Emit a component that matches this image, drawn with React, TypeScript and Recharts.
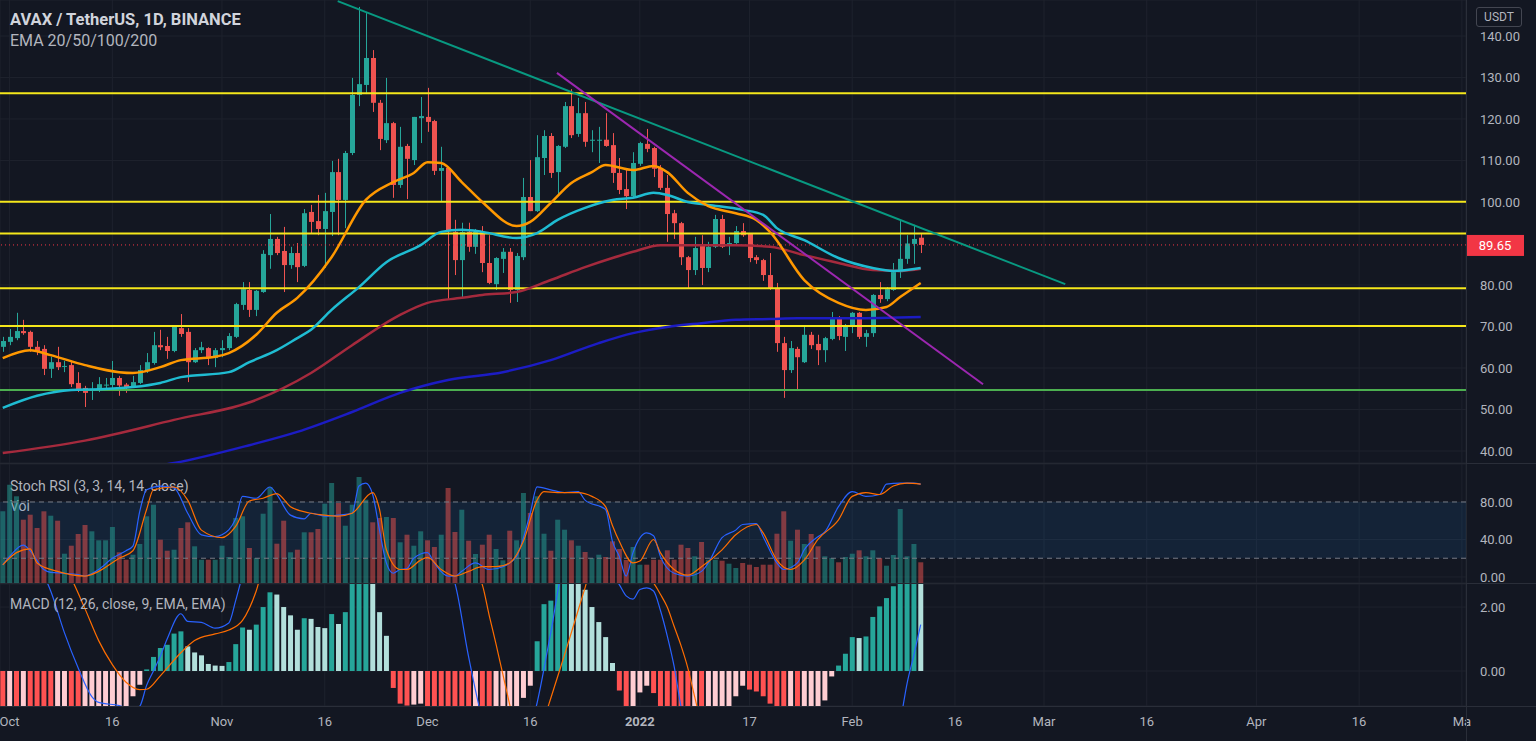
import React from 'react'
import {
  ComposedChart,
  Bar,
  Line,
  XAxis,
  YAxis,
  CartesianGrid,
  ReferenceLine,
  ReferenceArea,
  Cell,
} from 'recharts'

// daily candles, 30 Sep 2021 -> 10 Feb 2022 (index 0 = 30 Sep)
const opens = [
  65.1, 66.3, 67.2, 68.9, 68.7, 65.1, 64.6, 59.8, 61.4, 60.3, 60.7, 56.4, 55.2, 54.5, 54.9, 55.8, 55.9, 57.6, 56.0, 55.4,
  56.4, 59.3, 61.2, 65.5, 65.3, 64.1, 69.6, 68.7, 61.4, 64.3, 64.8, 62.4, 64.3, 64.8, 67.5, 75.2, 78.8, 74.0, 78.3, 87.2,
  91.1, 88.2, 84.8, 87.7, 84.6, 97.6, 95.4, 93.5, 97.6, 107.2, 100.5, 111.8, 125.8, 128.2, 134.7, 123.9, 114.9, 119.0, 104.1, 113.5,
  110.1, 120.2, 120.5, 119.5, 107.5, 108.2, 92.8, 86.0, 92.8, 89.2, 92.8, 85.3, 80.2, 86.3, 88.0, 78.8, 86.7, 101.2, 97.8, 110.6,
  115.9, 107.2, 113.3, 123.1, 116.4, 121.4, 114.9, 114.9, 115.0, 113.7, 107.0, 103.1, 101.4, 109.2, 114.0, 113.0, 108.2, 103.4, 97.3, 94.9,
  86.7, 83.6, 89.6, 84.1, 89.2, 95.9, 89.4, 90.1, 93.0, 92.3, 86.7, 86.0, 82.4, 79.3, 66.0, 59.5, 64.6, 61.4, 68.0, 65.8,
  64.3, 67.0, 72.0, 67.5, 69.9, 73.3, 67.5, 68.4, 77.6, 76.6, 78.8, 83.1, 86.3, 89.9, 91.4,
]
const highs = [
  67.5, 69.4, 73.3, 71.6, 69.0, 66.5, 65.5, 62.7, 65.1, 61.7, 61.7, 59.0, 55.7, 56.6, 57.8, 57.6, 61.7, 58.1, 56.4, 58.1,
  60.7, 63.6, 68.7, 69.2, 67.5, 70.1, 73.0, 69.6, 64.8, 66.3, 65.0, 64.8, 66.7, 68.4, 75.7, 80.7, 80.7, 78.8, 88.4, 97.1,
  91.6, 94.0, 89.2, 90.1, 98.3, 99.3, 101.7, 102.2, 109.9, 110.4, 112.3, 129.9, 147.0, 145.5, 136.6, 124.6, 129.9, 119.3, 118.1, 114.0,
  120.5, 125.3, 127.5, 119.8, 113.3, 108.5, 95.7, 95.0, 95.0, 93.5, 94.2, 92.0, 86.7, 88.9, 88.9, 87.7, 105.8, 110.1, 116.1, 117.3,
  116.6, 113.7, 124.1, 127.2, 125.1, 124.1, 117.3, 118.1, 121.4, 116.6, 110.6, 107.7, 112.0, 114.5, 117.6, 113.3, 108.9, 106.5, 98.1, 95.2,
  87.0, 91.6, 92.0, 90.4, 96.9, 96.9, 91.6, 94.2, 94.9, 92.5, 87.2, 86.3, 87.7, 80.5, 67.5, 66.5, 65.1, 70.1, 68.7, 68.0,
  67.5, 73.5, 72.5, 70.6, 73.5, 73.5, 69.2, 77.8, 80.7, 79.5, 85.3, 95.4, 92.0, 94.5, 92.5,
]
const lows = [
  63.9, 65.5, 66.7, 68.0, 63.9, 63.1, 58.3, 57.6, 59.5, 59.0, 55.4, 54.2, 50.6, 52.3, 54.2, 54.5, 55.2, 53.3, 54.0, 55.2,
  56.1, 58.8, 60.8, 64.3, 62.2, 63.8, 67.5, 56.6, 61.2, 63.6, 60.7, 60.2, 62.6, 64.3, 67.2, 74.0, 72.3, 72.5, 78.1, 83.9,
  87.2, 78.3, 83.9, 80.7, 84.3, 92.5, 92.0, 84.1, 91.8, 92.0, 93.7, 111.3, 123.1, 126.0, 121.7, 112.5, 114.2, 101.0, 103.4, 100.7,
  108.9, 114.2, 116.9, 106.5, 100.0, 76.4, 82.4, 76.9, 88.0, 87.5, 83.1, 80.2, 78.8, 82.9, 75.7, 75.9, 86.0, 97.8, 97.6, 106.5,
  105.8, 101.7, 113.0, 115.4, 115.7, 113.3, 112.0, 109.4, 113.3, 104.6, 101.9, 98.3, 101.2, 108.7, 112.0, 106.0, 102.9, 90.4, 91.1, 84.8,
  79.3, 82.4, 80.0, 83.1, 88.9, 88.9, 87.2, 89.9, 91.6, 85.5, 85.1, 81.0, 78.8, 63.9, 52.8, 58.8, 54.7, 61.2, 64.6, 60.7,
  61.4, 66.7, 66.7, 64.1, 68.4, 67.0, 65.1, 67.5, 75.7, 76.1, 78.6, 81.7, 85.1, 85.1, 87.7,
]
const closes = [
  66.5, 67.5, 68.9, 68.4, 65.1, 63.9, 59.8, 61.4, 60.2, 60.5, 56.1, 54.9, 54.0, 55.0, 56.1, 56.0, 57.6, 55.8, 55.4, 56.6,
  59.5, 61.4, 65.5, 65.0, 64.1, 69.9, 68.2, 61.4, 64.3, 65.0, 62.6, 64.3, 64.8, 67.7, 75.4, 79.0, 74.0, 78.6, 87.5, 91.1,
  87.7, 84.8, 87.7, 84.3, 97.3, 95.2, 93.5, 97.8, 107.2, 100.5, 111.8, 125.8, 128.4, 134.7, 123.9, 115.2, 119.0, 104.1, 113.3, 110.4,
  120.5, 120.7, 119.3, 107.5, 108.2, 93.0, 86.0, 92.8, 89.2, 92.8, 85.3, 80.5, 86.5, 88.0, 78.8, 87.0, 101.2, 97.8, 110.8, 115.9,
  107.0, 113.5, 123.1, 116.1, 121.4, 114.5, 115.0, 115.0, 113.5, 107.0, 102.9, 101.4, 109.4, 114.2, 112.8, 108.0, 103.4, 97.1, 94.9, 86.7,
  83.6, 88.9, 84.1, 89.2, 95.9, 89.2, 90.1, 93.0, 92.0, 86.5, 86.0, 82.4, 79.3, 66.0, 59.5, 64.8, 62.6, 68.0, 65.5, 64.3,
  67.2, 72.0, 67.7, 69.9, 73.3, 67.5, 68.4, 77.6, 76.6, 79.0, 83.1, 86.3, 90.0, 91.1, 89.65,
]
// volume, relative units
const volumes = [
  71.7, 98.3, 86.7, 63.3, 68.3, 55, 71.7, 67.3, 62.3, 29.3, 37.3, 49, 58, 51.7, 42.7, 42.7, 56, 30.7, 23.3, 28.3,
  39, 66.7, 78.3, 43.3, 32.3, 33.3, 55, 60.7, 36.7, 23.3, 23.3, 23.3, 37.3, 26, 65, 66.7, 35, 25, 69.3, 96,
  39.3, 62.3, 30.7, 33.3, 50.7, 50.7, 54, 79.3, 100, 80, 57.3, 78.3, 106, 83.3, 60.7, 65, 66, 65, 40.7, 48.3,
  37.3, 51.7, 42.7, 36, 48.3, 95, 51, 73.3, 42.3, 29, 38.3, 48.3, 34, 22.7, 52.3, 42.7, 90, 70, 86.7, 49.3,
  32.3, 63.3, 53.3, 42.7, 37.3, 31, 25, 28.3, 26, 41.7, 34, 23, 36, 18.3, 18.3, 23.3, 23.3, 32.7, 23.3, 38.3,
  35, 26.7, 41, 23.3, 23.3, 22.3, 19.3, 15, 20, 18.3, 16, 18.3, 18.3, 49.3, 71.7, 42.3, 53.3, 39, 49, 36.7,
  26.7, 25, 20.7, 26, 29.3, 32.7, 26.7, 32.7, 25, 17.3, 28, 74, 26.7, 39, 20.7,
]
const macdHist = [
  -1.4, -1.35, -1.42, -1.38, -1.5, -1.6, -1.7, -1.8, -1.75, -1.7, -1.78, -1.85, -1.8, -1.7, -1.6, -1.5, -1.4, -1.3, -1.2, -0.79,
  -0.43, 0.05, 0.44, 0.72, 0.82, 1.17, 1.24, 0.77, 0.58, 0.49, 0.22, 0.17, 0.16, 0.28, 0.84, 1.36, 1.29, 1.45, 2.0, 2.46,
  2.39, 2.0, 1.74, 1.29, 1.65, 1.63, 1.375, 1.34, 1.78, 1.47, 1.84, 2.8, 3.0, 3.2, 3.1, 1.84, 1.1, -0.53, -1.02, -1.08,
  -1.05, -1.02, -1.15, -1.3, -1.4, -1.6, -1.8, -1.9, -2.0, -1.95, -2.0, -2.05, -1.95, -1.8, -1.6, -1.3, -0.84, -0.46, 0.93, 2.09,
  2.2, 2.9, 3.1, 3.0, 2.85, 2.54, 2.0, 1.53, 1.06, 0.25, -0.61, -1.3, -1.2, -0.67, -0.46, -0.69, -1.2, -1.5, -1.8, -2.0,
  -2.2, -2.1, -2.2, -2.0, -1.8, -1.5, -1.2, -0.79, -0.46, -0.58, -0.64, -0.79, -1.02, -1.3, -1.6, -1.55, -1.6, -1.5, -1.4, -1.2,
  -0.92, -0.17, 0.17, 0.54, 1.06, 1.03, 1.08, 1.69, 2.02, 2.28, 2.65, 2.9, 3.1, 3.3, 3.2,
]

// indicator readings: [candle index, value]
const ema20Pts = [
  [0, 62.4], [4, 64.3], [7, 63.1], [12, 60.7], [17, 59.0], [19, 58.8], [23, 60.2], [26, 61.9], [31, 62.7], [33, 63.6],
  [37, 68.0], [40, 73.3], [43, 76.9], [48, 86.7], [53, 100.5], [57, 104.8], [60, 107.0], [62, 109.6], [64, 109.4], [67, 104.8],
  [70, 100.0], [75, 94.2], [77, 95.2], [80, 99.8], [83, 104.6], [86, 107.2], [88, 108.9], [92, 107.7], [95, 108.7], [97, 107.2],
  [100, 102.2], [103, 99.0], [107, 97.3], [110, 95.7], [112, 92.8], [117, 81.2], [122, 75.7], [126, 74.0], [129, 74.7], [131, 77.1],
  [134, 80.5],
]
const ema50Pts = [
  [0, 50.4], [5, 53.3], [10, 54.7], [14, 54.9], [19, 55.4], [23, 56.4], [26, 57.8], [33, 59.0], [36, 61.4], [40, 64.3],
  [43, 67.2], [45, 69.2], [48, 74.0], [52, 79.5], [56, 85.5], [61, 89.6], [64, 92.8], [67, 93.3], [70, 92.8], [75, 91.3],
  [78, 92.5], [81, 95.7], [85, 98.6], [89, 100.5], [92, 101.0], [95, 102.2], [97, 101.7], [100, 100.0], [103, 99.3], [108, 98.1],
  [111, 96.9], [113, 93.7], [117, 90.8], [122, 86.5], [127, 84.1], [130, 83.4], [134, 84.1],
]
const ema100Pts = [
  [0, 39.5], [12, 42.5], [25, 47.5], [37, 52.3], [45, 58.8], [51, 65.5], [58, 72.8], [62, 75.7], [67, 76.9], [70, 77.6],
  [75, 78.3], [80, 81.2], [85, 84.3], [89, 86.5], [92, 88.0], [96, 89.6], [102, 89.6], [107, 89.6], [112, 89.2], [117, 87.2],
  [122, 85.3], [127, 83.6], [131, 83.4], [134, 83.9],
]
const ema200Pts = [
  [20, 35.8], [25, 37.1], [36, 41.4], [43, 44.6], [51, 49.4], [58, 54.0], [65, 57.1], [73, 59.0], [80, 61.9], [87, 66.0],
  [92, 68.4], [97, 69.9], [102, 70.8], [107, 71.6], [112, 71.8], [116, 72.0], [124, 72.0], [134, 72.3],
]
const stochKPts = [
  [0, 13], [1, 22], [3, 34], [4, 28], [6, 8], [7, 5], [9, 4], [11, 2.5], [12, 1], [14, 8], [16, 20], [18, 28], [19, 33],
  [20, 70], [21, 93], [23, 97], [25, 95], [27, 68], [29, 45], [31, 43], [32, 45], [34, 62], [35, 86], [37, 84], [39, 96],
  [40, 88], [42, 66], [44, 62], [45, 68], [47, 65], [49, 66], [51, 68], [52, 97], [53, 100], [54, 88], [55, 50], [56, 15],
  [57, 4], [58, 8], [59, 9], [60, 20], [62, 26], [63, 15], [65, 1], [66, 1], [67, 6], [69, 15], [71, 8], [73, 11], [75, 22],
  [77, 68], [78, 96], [80, 93], [82, 90], [84, 91], [85, 82], [88, 72], [89, 38], [90, 22], [91, 1], [92, 26], [94, 47],
  [95, 44], [96, 22], [98, 4], [100, 1], [102, 6], [103, 15], [105, 42], [107, 50], [108, 56], [110, 57], [111, 43], [113, 15],
  [114, 8], [116, 15], [117, 29], [119, 43], [120, 48], [122, 75], [124, 91], [126, 86], [128, 88], [129, 99], [131, 100],
  [133, 100], [134, 99],
]
const stochDPts = [
  [0, 13], [2, 26], [4, 30], [5, 15], [8, 6], [12, 1], [14, 6], [17, 20], [19, 28], [21, 72], [22, 93], [25, 96], [27, 82],
  [29, 50], [32, 42], [34, 54], [36, 81], [38, 84], [40, 89], [42, 75], [45, 68], [47, 66], [49, 65], [51, 68], [54, 90],
  [55, 72], [56, 29], [58, 8], [59, 8], [61, 18], [62, 21], [64, 8], [66, 1], [68, 6], [70, 11], [72, 11], [74, 15], [76, 38],
  [78, 82], [79, 91], [81, 90], [84, 90], [86, 86], [88, 75], [89, 55], [90, 38], [92, 15], [93, 17], [95, 40], [96, 26],
  [98, 8], [100, 2], [102, 11], [105, 29], [107, 45], [110, 56], [111, 47], [113, 18], [115, 8], [117, 18], [119, 40],
  [122, 61], [124, 86], [126, 90], [128, 88], [130, 97], [132, 100], [134, 99],
]
const macdPts = [
  [0, 4.5], [6, 3.0], [7, 2.5], [9, 1.2], [11, 0.1], [13, -0.8], [14, -0.98], [17, -1.08], [19, -1.2], [20, -1.1],
  [21, -0.45], [22, 0.0], [23, 0.46], [24, 1.0], [26, 1.79], [27, 1.55], [29, 1.52], [31, 1.34], [33, 1.5], [34, 2.2],
  [35, 3.0], [36, 3.8], [45, 5.0], [60, 5.0], [66, 2.75], [68, 0.45], [70, -1.5], [74, -3.0], [76, -2.5], [78, -1.0],
  [80, 1.2], [82, 3.4], [86, 4.2], [88, 3.3], [90, 2.7], [91, 2.35], [92, 2.25], [93, 2.55], [94, 2.6], [95, 2.5],
  [96, 1.9], [97, 1.1], [98, 0.15], [99, -1.1], [101, -2.5], [110, -4.0], [120, -4.5], [128, -3.5], [131, -1.6], [132, -0.4],
  [133, 0.5], [134, 1.45],
]
const signalPts = [
  [0, 5.5], [9, 3.3], [10, 2.9], [12, 1.95], [14, 0.95], [16, 0.2], [18, -0.35], [20, -0.58], [21, -0.57], [23, -0.15],
  [26, 0.57], [28, 0.95], [31, 1.16], [33, 1.28], [35, 1.58], [37, 2.5], [38, 3.2], [50, 5.0], [65, 4.5], [69, 3.1],
  [70, 2.7], [71, 1.75], [72, 0.85], [73, -0.1], [74, -1.05], [75, -2.0], [77, -2.3], [79, -1.5], [80, -0.85], [82, 0.5],
  [84, 1.9], [85, 2.6], [86, 3.3], [90, 3.4], [95, 2.75], [96, 2.4], [97, 2.0], [98, 1.4], [99, 0.8], [100, 0.1],
  [101, -0.8], [102, -1.6], [110, -3.0], [125, -3.0], [134, -1.75],
]

// drawings
const levels = [126.2, 100.05, 92.4, 79.2, 70.1]
const support = 54.7
const lastPrice = 89.65
const trendTeal = [{ x: 48.9, y: 148.4 }, { x: 155.1, y: 80.2 }]
const trendPurple = [{ x: 80.9, y: 131.1 }, { x: 143.1, y: 56.1 }]

// axes
const monthTicks = [1, 16, 32, 47, 62, 77, 93, 109, 124, 139, 152, 167, 183, 198, 213]
const monthLabels = ['Oct', '16', 'Nov', '16', 'Dec', '16', '2022', '17', 'Feb', '16', 'Mar', '16', 'Apr', '16', 'Ma']
const priceTicks = [40, 50, 60, 70, 80, 100, 110, 120, 130, 140]
const stochTicks = [0, 40, 80]
const macdTicks = [0, 2]

const W = 1536
const AXIS_W = 70
const BG = '#131722'
const GRID = '#1e222d'
const BORDER = '#2a2e39'
const TEXT = '#b2b5be'
const FONT = "'Trebuchet MS', Roboto, 'Noto Sans', sans-serif"
const UP = '#26a69a'
const DOWN = '#ef5350'

const rows = opens.map((open, i) => ({
  i,
  open,
  high: highs[i],
  low: lows[i],
  close: closes[i],
  range: [lows[i], highs[i]],
  vol: volumes[i],
  hist: macdHist[i],
}))

// each indicator line keeps its own small table (no gaps, no filler)
const series = (pts: number[][]) => pts.map(([i, v]) => ({ i, v }))

const histColor = (i: number) => {
  const v = macdHist[i]
  const prev = i > 0 ? macdHist[i - 1] : v
  if (v >= 0) return prev < v ? '#26a69a' : '#b2dfdb'
  return prev < v ? '#ffcdd2' : '#ff5252'
}

const Candle = (props: any) => {
  const { x, y, width, height, payload } = props
  if (!payload) return null
  const { open, close, high, low } = payload
  const color = close >= open ? UP : DOWN
  const top = Math.min(y, y + height)
  const h = Math.abs(height)
  const k = h / Math.max(high - low, 1e-6)
  const py = (v: number) => top + (high - v) * k
  const cx = Math.round(x + width / 2) + 0.5
  const bTop = py(Math.max(open, close))
  const bBot = py(Math.min(open, close))
  return (
    <g>
      <line x1={cx} x2={cx} y1={top} y2={top + h} stroke={color} strokeWidth={1} />
      <rect x={cx - 2.5} y={bTop} width={5} height={Math.max(bBot - bTop, 1)} fill={color} />
    </g>
  )
}

const PriceTag = (props: any) => {
  const vb = props.viewBox
  if (!vb) return null
  const x = vb.x + vb.width
  return (
    <g>
      <rect x={x} y={vb.y - 10} width={58} height={21} fill="#f23645" />
      <text x={x + 29} y={vb.y + 5} textAnchor="middle" fill="#ffffff" fontSize={13} fontFamily={FONT}>
        {lastPrice.toFixed(2)}
      </text>
    </g>
  )
}

const MonthTick = (props: any) => {
  const { x, y, payload } = props
  const label = monthLabels[monthTicks.indexOf(payload.value)]
  return (
    <text x={x} y={y} dy={12} textAnchor="middle" fill={TEXT} fontSize={13} fontFamily={FONT}
      fontWeight={label === '2022' ? 700 : 400}>
      {label}
    </text>
  )
}

const xDomain: [number, number] = [-0.4, 213.6]
const noMargin = { top: 0, right: 0, bottom: 0, left: 0 }
const yTick = { fill: TEXT, fontSize: 13, fontFamily: FONT }
const fmt = (v: number) => v.toFixed(2)

const IndLine = (pts: number[][], color: string, width: number) => (
  <Line data={series(pts)} dataKey="v" type="monotone" stroke={color} strokeWidth={width}
    dot={false} activeDot={false} isAnimationActive={false} />
)

const legend = (top: number, text: string, bold = false, size = 14, color = TEXT) => (
  <div style={{
    position: 'absolute', left: 10, top, fontFamily: FONT, fontSize: size, color,
    fontWeight: bold ? 700 : 400, whiteSpace: 'nowrap', lineHeight: 1,
  }}>{text}</div>
)

const App = () => {
  return (
    <div style={{ position: 'fixed', left: 0, top: 0, width: W, height: 741, background: BG, overflow: 'hidden' }}>
      <style>{'.stoch-pane .recharts-surface { overflow: visible; }'}</style>

      {/* price pane */}
      <div style={{ position: 'absolute', left: 0, top: 0 }}>
        <ComposedChart width={W} height={463} data={rows} margin={noMargin}>
          <CartesianGrid stroke={GRID} />
          <XAxis dataKey="i" type="number" domain={xDomain} ticks={monthTicks} allowDataOverflow hide />
          <YAxis orientation="right" width={AXIS_W} domain={[37.11, 148.67]} ticks={priceTicks} interval={0}
            allowDataOverflow axisLine={false} tickLine={false} tickMargin={8} tick={yTick} tickFormatter={fmt} />
          {levels.map((l) => (
            <ReferenceLine key={l} y={l} stroke="#f5e71b" strokeWidth={2} />
          ))}
          <ReferenceLine y={support} stroke="#4caf50" strokeWidth={2} />
          <ReferenceLine y={lastPrice} stroke="#f23645" strokeDasharray="1 3" label={<PriceTag />} />
          <Bar dataKey="range" shape={<Candle />} barSize={5} isAnimationActive={false} />
          {IndLine(ema200Pts, '#1c1cc4', 2.5)}
          {IndLine(ema100Pts, '#a52a3d', 2.5)}
          {IndLine(ema50Pts, '#1fbcd2', 2.5)}
          {IndLine(ema20Pts, '#ff9800', 2.5)}
          <ReferenceLine segment={trendTeal} stroke="#089981" strokeWidth={2} />
          <ReferenceLine segment={trendPurple} stroke="#9c27b0" strokeWidth={2} />
        </ComposedChart>
      </div>

      {/* stoch rsi + volume pane */}
      <div className="stoch-pane" style={{ position: 'absolute', left: 0, top: 464, zIndex: 2 }}>
        <ComposedChart width={W} height={119} data={rows} margin={noMargin}>
          <CartesianGrid stroke={GRID} />
          <XAxis dataKey="i" type="number" domain={xDomain} ticks={monthTicks} allowDataOverflow hide />
          <YAxis orientation="right" width={AXIS_W} domain={[-6.4, 120.5]} ticks={stochTicks} interval={0}
            allowDataOverflow axisLine={false} tickLine={false} tickMargin={8} tick={yTick} tickFormatter={fmt} />
          <YAxis yAxisId="vol" hide domain={[0, 119]} allowDataOverflow />
          <Bar yAxisId="vol" dataKey="vol" barSize={5} isAnimationActive={false}>
            {rows.map((r) => (
              <Cell key={r.i} fill={r.close >= r.open ? 'rgba(38,166,154,0.5)' : 'rgba(239,83,80,0.5)'} />
            ))}
          </Bar>
          <ReferenceArea y1={20} y2={80} fill="#2196f3" fillOpacity={0.1} stroke="none" />
          <ReferenceLine y={80} stroke="#787b86" strokeDasharray="5 4" />
          <ReferenceLine y={20} stroke="#787b86" strokeDasharray="5 4" />
          {IndLine(stochKPts, '#2962ff', 1.2)}
          {IndLine(stochDPts, '#ff6d00', 1.2)}
        </ComposedChart>
      </div>

      {/* macd pane with time axis */}
      <div style={{ position: 'absolute', left: 0, top: 584 }}>
        <ComposedChart width={W} height={157} data={rows} margin={noMargin}>
          <CartesianGrid stroke={GRID} />
          <XAxis dataKey="i" type="number" domain={xDomain} ticks={monthTicks} interval={0} allowDataOverflow
            height={35} axisLine={false} tickLine={false} tick={<MonthTick />} />
          <YAxis orientation="right" width={AXIS_W} domain={[-1.094, 2.72]} ticks={macdTicks} interval={0}
            allowDataOverflow axisLine={false} tickLine={false} tickMargin={8} tick={yTick} tickFormatter={fmt} />
          <Bar dataKey="hist" barSize={5} isAnimationActive={false}>
            {rows.map((r) => (
              <Cell key={r.i} fill={histColor(r.i)} />
            ))}
          </Bar>
          {IndLine(macdPts, '#2962ff', 1.2)}
          {IndLine(signalPts, '#ff6d00', 1.2)}
        </ComposedChart>
      </div>

      {/* pane borders */}
      <div style={{ position: 'absolute', left: 0, top: 463, width: W, height: 1, background: BORDER }} />
      <div style={{ position: 'absolute', left: 0, top: 583, width: W, height: 1, background: BORDER }} />
      <div style={{ position: 'absolute', left: 0, top: 706, width: W, height: 1, background: BORDER }} />
      <div style={{ position: 'absolute', left: W - AXIS_W, top: 0, width: 1, height: 741, background: BORDER }} />

      {/* currency box */}
      <div style={{
        position: 'absolute', left: 1476, top: 7, width: 44, height: 18, border: '1px solid #434651',
        borderRadius: 3, color: TEXT, fontFamily: FONT, fontSize: 12, lineHeight: '18px', textAlign: 'center',
        background: BG,
      }}>USDT</div>

      {legend(12, 'AVAX / TetherUS, 1D, BINANCE', true, 16.5, '#d1d4dc')}
      {legend(33, 'EMA 20/50/100/200', false, 16, '#b2b5be')}
      {legend(479, 'Stoch RSI (3, 3, 14, 14, close)', false, 14)}
      {legend(499, 'Vol', false, 14)}
      {legend(597, 'MACD (12, 26, close, 9, EMA, EMA)', false, 14)}
    </div>
  )
}

export default App
